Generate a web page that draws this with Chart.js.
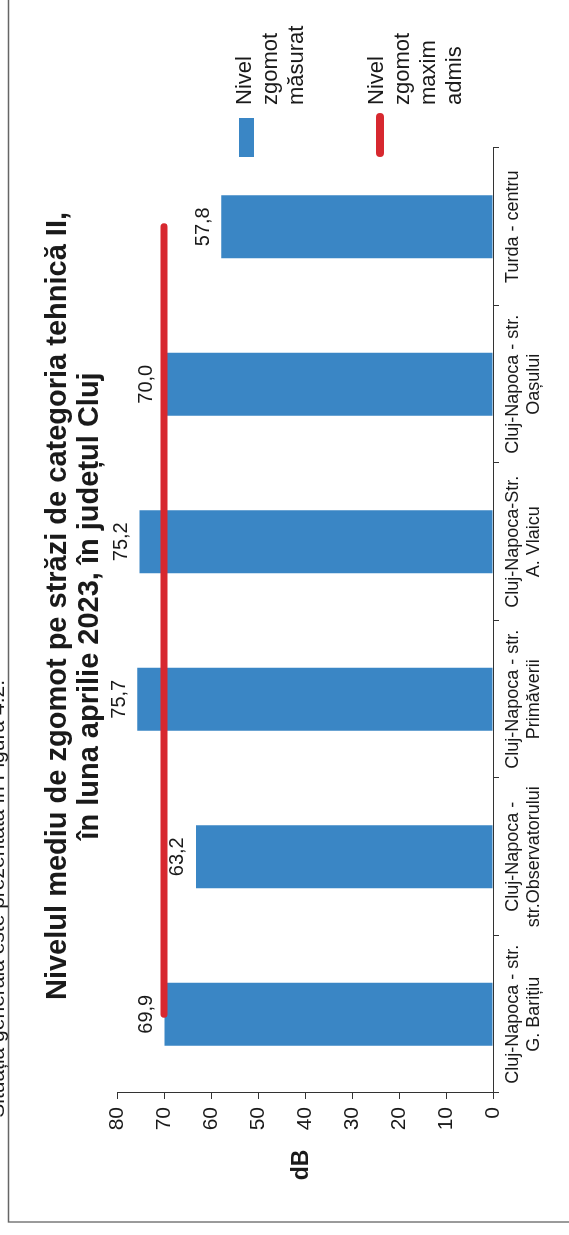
<!DOCTYPE html>
<html>
<head>
<meta charset="utf-8">
<script src="https://cdn.jsdelivr.net/npm/chart.js"></script>
<style>
  html, body { margin: 0; padding: 0; background: #fff; overflow: hidden; }
  #wrap { position: absolute; left: 0; top: 0; width: 1235px; height: 569px;
          transform-origin: 0 0; transform: translate(0, 1235px) rotate(-90deg); }
  #c { display: block; }
</style>
</head>
<body>
<div id="wrap"><canvas id="c" width="1235" height="569"></canvas></div>
<script>
const titleLines = ['Nivelul mediu de zgomot pe străzi de categoria tehnică II,', 'în luna aprilie 2023, în județul Cluj'];
const categories = [
  ['Cluj-Napoca - str.', 'G. Barițiu'],
  ['Cluj-Napoca -', 'str.Observatorului'],
  ['Cluj-Napoca - str.', 'Primăverii'],
  ['Cluj-Napoca-Str.', 'A. Vlaicu'],
  ['Cluj-Napoca - str.', 'Oașului'],
  ['Turda - centru']
];
const measuredDb = [69.9, 63.2, 75.7, 75.2, 70.0, 57.8];
const limitDb = [70, 70, 70, 70, 70, 70];
const seriesNames = [['Nivel', 'zgomot', 'măsurat'], ['Nivel', 'zgomot', 'maxim', 'admis']];
const dbTicks = [0, 10, 20, 30, 40, 50, 60, 70, 80];
const axisTitle = 'dB';
const pageText = 'Situația generală este prezentată în Figura 4.2.';

const FONT = '"Liberation Sans", Arial, sans-serif';
const BLUE = '#3a86c5';
const RED = '#d7282f';
const INK = '#1a1a1a';

const fmt = v => v.toFixed(1).replace('.', ',');

// page frame + cut text of the scanned page
const pagePlugin = {
  id: 'page',
  beforeDraw(chart) {
    const ctx = chart.ctx;
    ctx.save();
    ctx.fillStyle = '#fff';
    ctx.fillRect(0, 0, chart.width, chart.height);
    ctx.strokeStyle = '#666';
    ctx.lineWidth = 1.3;
    ctx.beginPath();
    ctx.moveTo(13, chart.height);
    ctx.lineTo(13, 8.5);
    ctx.lineTo(chart.width, 8.5);
    ctx.stroke();
    ctx.fillStyle = INK;
    ctx.font = '21px ' + FONT;
    ctx.textAlign = 'right';
    ctx.textBaseline = 'alphabetic';
    ctx.fillText(pageText, 555, 4);
    ctx.restore();
  }
};

// title, values above bars, axis title, legend on the side
const extrasPlugin = {
  id: 'extras',
  afterDatasetsDraw(chart) {
    const ctx = chart.ctx;
    const area = chart.chartArea;
    ctx.save();
    ctx.fillStyle = INK;
    ctx.textAlign = 'center';
    ctx.textBaseline = 'middle';

    ctx.font = 'bold 29px ' + FONT;
    titleLines.forEach((line, k) => ctx.fillText(line, 629, 58 + k * 32));

    ctx.font = '20px ' + FONT;
    chart.getDatasetMeta(1).data.forEach((bar, i) => {
      ctx.fillText(fmt(measuredDb[i]), bar.x, bar.y - 18);
    });

    ctx.font = 'bold 23px ' + FONT;
    ctx.fillText(axisTitle, 70, (area.top + area.bottom) / 2 - 3);

    const x0 = area.right - 9;
    const rows = [245, 377];
    ctx.font = '22px ' + FONT;
    ctx.textAlign = 'left';
    chart.data.datasets.forEach(ds => {
      const y = rows[ds.type === 'line' ? 1 : 0];
      if (ds.type === 'line') {
        ctx.strokeStyle = ds.borderColor;
        ctx.lineWidth = 8;
        ctx.lineCap = 'round';
        ctx.beginPath();
        ctx.moveTo(x0 + 4, y + 3);
        ctx.lineTo(x0 + 40, y + 3);
        ctx.stroke();
      } else {
        ctx.fillStyle = ds.backgroundColor;
        ctx.fillRect(x0, y - 6, 39, 15);
      }
      ctx.fillStyle = INK;
      ds.label.forEach((line, k) => ctx.fillText(line, x0 + 52, y + k * 26));
    });
    ctx.restore();
  }
};

new Chart(document.getElementById('c'), {
  data: {
    labels: categories,
    datasets: [
      {
        type: 'line',
        label: seriesNames[1],
        data: limitDb,
        borderColor: RED,
        borderWidth: 7,
        borderCapStyle: 'round',
        pointRadius: 0,
        tension: 0,
        order: 1
      },
      {
        type: 'bar',
        label: seriesNames[0],
        data: measuredDb,
        backgroundColor: BLUE,
        barPercentage: 0.4,
        categoryPercentage: 1,
        order: 2
      }
    ]
  },
  options: {
    responsive: false,
    animation: false,
    devicePixelRatio: 1,
    layout: { padding: { left: 0, right: 148, top: 117, bottom: 0 } },
    plugins: {
      legend: { display: false },
      tooltip: { enabled: false },
      title: { display: false }
    },
    scales: {
      x: {
        grid: { display: true, offset: true, drawOnChartArea: false, tickLength: 6, color: '#333', tickColor: '#333' },
        border: { display: true, color: '#333', width: 1 },
        ticks: { color: INK, font: { family: FONT, size: 18, lineHeight: 1.15 }, padding: 4, maxRotation: 0, autoSkip: false },
        afterFit: s => { s.height = 76; }
      },
      y: {
        min: dbTicks[0],
        max: dbTicks[dbTicks.length - 1],
        afterBuildTicks: s => { s.ticks = dbTicks.map(v => ({ value: v })); },
        grid: { display: true, drawOnChartArea: false, tickLength: 6, color: '#333', tickColor: '#333' },
        border: { display: true, color: '#333', width: 1 },
        ticks: { color: INK, font: { family: FONT, size: 21 }, padding: 8 },
        afterFit: s => { s.width = 142; }
      }
    }
  },
  plugins: [pagePlugin, extrasPlugin]
});
</script>
</body>
</html>
